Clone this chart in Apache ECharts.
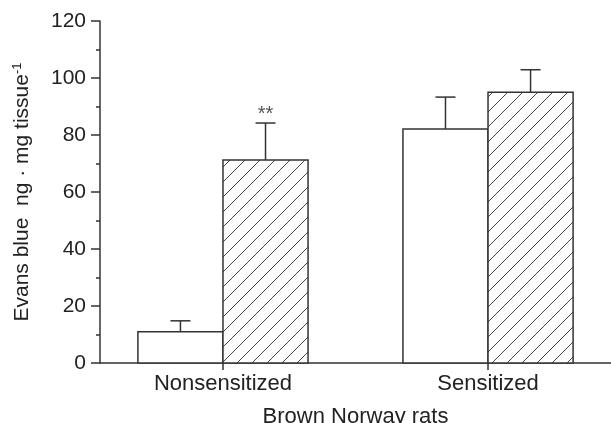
<!DOCTYPE html>
<html>
<head>
<meta charset="utf-8">
<script src="https://cdn.jsdelivr.net/npm/echarts@6/dist/echarts.min.js"></script>
<style>
html,body{margin:0;padding:0;background:#fff;}
#chart{width:611px;height:423px;}
</style>
</head>
<body>
<div id="chart"></div>
<script>
// ---- data ----
const groups = ['Nonsensitized', 'Sensitized'];
const controlMean = [11.0, 82.1];
const controlErr = [3.8, 11.2];
const treatedMean = [71.2, 95.0];
const treatedErr = [13.0, 7.9];
const treatedMarks = ['**', ''];
const yTickValues = [0, 20, 40, 60, 80, 100, 120];

const FONT = "'Liberation Sans', Arial, sans-serif";
const INK = '#333';

// hatch pattern
function makeHatch() {
  const s = 15;
  const c = document.createElement('canvas');
  c.width = s; c.height = s;
  const ctx = c.getContext('2d');
  ctx.fillStyle = '#fff';
  ctx.fillRect(0, 0, s, s);
  ctx.strokeStyle = '#444';
  ctx.lineWidth = 1;
  for (const k of [-s, 0, s]) {
    ctx.beginPath();
    ctx.moveTo(k - 1, s + 1);
    ctx.lineTo(k + s + 1, -1);
    ctx.stroke();
  }
  return c;
}
const hatch = { image: makeHatch(), repeat: 'repeat' };

const halfW = 0.321;
function barRenderer(side, fill, marks) {
  return function (params, api) {
    const x = api.value(0), v = api.value(1), e = api.value(2);
    const xa = side < 0 ? x - halfW : x;
    const xb = side < 0 ? x : x + halfW;
    const p0 = api.coord([xa, 0]);
    const p1 = api.coord([xb, v]);
    const pe = api.coord([xa, v + e]);
    const xc = (p0[0] + p1[0]) / 2;
    const children = [
      { type: 'line', shape: { x1: xc, y1: p1[1], x2: xc, y2: pe[1] }, style: { stroke: INK, lineWidth: 1.5 } },
      { type: 'line', shape: { x1: xc - 10, y1: pe[1], x2: xc + 10, y2: pe[1] }, style: { stroke: INK, lineWidth: 1.5 } },
      { type: 'rect', shape: { x: p0[0], y: p1[1], width: p1[0] - p0[0], height: p0[1] - p1[1] },
        style: { fill: fill, stroke: INK, lineWidth: 1.5 } }
    ];
    const m = marks ? marks[params.dataIndex] : '';
    if (m) {
      children.push({ type: 'text', style: { text: m, x: xc, y: pe[1] + 1, align: 'center', verticalAlign: 'bottom',
        fill: '#555', font: '20px ' + FONT } });
    }
    return { type: 'group', children: children };
  };
}

const groupPos = groups.map((g, i) => i + 1);
const chart = echarts.init(document.getElementById('chart'));
chart.setOption({
  animation: false,
  backgroundColor: '#fff',
  grid: { left: 100, right: 0, top: 21, bottom: 60, outerBoundsMode: 'none', containLabel: false },
  xAxis: {
    type: 'value', min: 0.536, max: 2.464,
    splitLine: { show: false },
    axisLine: { show: true, onZero: false, lineStyle: { color: INK, width: 1.5 } },
    axisTick: { show: true, customValues: groupPos, length: 7, lineStyle: { color: INK, width: 1.5 } },
    axisLabel: { show: true, customValues: groupPos, formatter: v => groups[Math.round(v) - 1] || '',
      color: '#222', fontSize: 22, fontFamily: FONT, margin: 10 },
    name: 'Brown Norway rats', nameLocation: 'middle', nameGap: 43,
    nameTextStyle: { color: '#222', fontSize: 22, fontFamily: FONT }
  },
  yAxis: {
    type: 'value', min: 0, max: 120, interval: 20,
    splitLine: { show: false },
    axisLine: { show: true, lineStyle: { color: INK, width: 1.5 } },
    axisTick: { show: true, length: 9, lineStyle: { color: INK, width: 1.5 } },
    minorTick: { show: true, splitNumber: 2, length: 4, lineStyle: { color: INK, width: 1.5 } },
    axisLabel: { color: '#222', fontSize: 21, fontFamily: FONT, margin: 14,
      formatter: v => yTickValues.includes(v) ? String(v) : '' },
    name: '{a|Evans blue  ng \u00b7 mg tissue}{s|-1}', nameLocation: 'middle', nameGap: 66,
    nameTextStyle: { rich: {
      a: { color: '#222', fontSize: 21, fontFamily: FONT },
      s: { color: '#222', fontSize: 13, fontFamily: FONT, verticalAlign: 'top', padding: [0, 0, 10, 0] }
    } }
  },
  series: [
    { type: 'custom', clip: false, renderItem: barRenderer(-1, '#fff', null),
      encode: { x: 0, y: 1 },
      data: groupPos.map((x, i) => [x, controlMean[i], controlErr[i]]) },
    { type: 'custom', clip: false, renderItem: barRenderer(1, hatch, treatedMarks),
      encode: { x: 0, y: 1 },
      data: groupPos.map((x, i) => [x, treatedMean[i], treatedErr[i]]) }
  ]
});
</script>
</body>
</html>
